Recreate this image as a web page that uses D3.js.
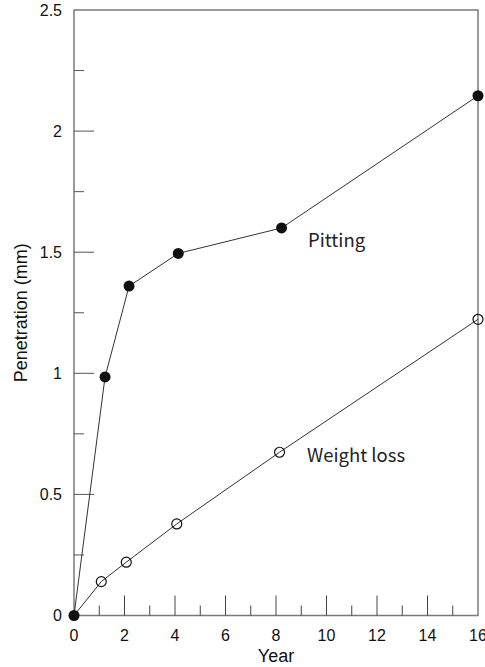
<!DOCTYPE html>
<meta charset="utf-8">
<head>
<style>
  * { margin: 0; padding: 0; }
  body { background: #fff; }
  svg { display: block; }
  .tick-label { font: 16px "Liberation Sans", Arial, sans-serif; fill: #111; }
  .title { font: 18px "Liberation Sans", Arial, sans-serif; fill: #111; }
  .series-label { font: 18.5px "Noto Sans CJK KR", "Noto Sans", sans-serif; fill: #222; }
</style>
</head>
<body>
<svg id="chart" width="485" height="667"></svg>
<script src="https://cdn.jsdelivr.net/npm/d3@7"></script>
<script>
  // data
  var pittingYears = [0, 1.23, 2.18, 4.13, 8.22, 16];
  var pittingValues = [0, 0.985, 1.36, 1.495, 1.6, 2.146];
  var weightYears = [0, 1.08, 2.07, 4.07, 8.14, 16];
  var weightValues = [0, 0.14, 0.22, 0.378, 0.674, 1.223];
  var xTicks = [0, 2, 4, 6, 8, 10, 12, 14, 16];
  var yTicks = [0, 0.5, 1, 1.5, 2, 2.5];

  var svg = d3.select("#chart");
  var m = { left: 74, right: 478, top: 10, bottom: 615.5 };

  var x = d3.scaleLinear().domain([0, 16]).range([m.left, m.right]);
  var y = d3.scaleLinear().domain([0, 2.5]).range([m.bottom, m.top]);

  var axisColor = "#7a7a7a";

  // frame
  svg.append("rect")
    .attr("x", m.left).attr("y", m.top)
    .attr("width", m.right - m.left).attr("height", m.bottom - m.top)
    .attr("fill", "none").attr("stroke", axisColor).attr("stroke-width", 1.5);

  // x ticks (inward), major every 2, minor every 1
  d3.range(1, 16).forEach(function(v) {
    var len = v % 2 === 0 ? 20 : 10;
    svg.append("line")
      .attr("x1", x(v)).attr("x2", x(v))
      .attr("y1", m.bottom).attr("y2", m.bottom - len)
      .attr("stroke", "#444").attr("stroke-width", 1);
  });
  svg.selectAll(".xl").data(xTicks).enter().append("text")
    .attr("class", "tick-label")
    .attr("x", function(d) { return x(d); })
    .attr("y", 641)
    .attr("text-anchor", "middle")
    .text(function(d) { return d; });

  // y ticks, major every 0.5, minor every 0.25
  d3.range(1, 10).forEach(function(i) {
    var v = i * 0.25;
    var len = i % 2 === 0 ? 20 : 10;
    svg.append("line")
      .attr("x1", m.left).attr("x2", m.left + len)
      .attr("y1", y(v)).attr("y2", y(v))
      .attr("stroke", "#555").attr("stroke-width", 1);
  });
  svg.selectAll(".yl").data(yTicks).enter().append("text")
    .attr("class", "tick-label")
    .attr("x", 62)
    .attr("y", function(d) { return y(d); })
    .attr("dy", "0.35em")
    .attr("text-anchor", "end")
    .text(function(d) { return d; });

  // axis titles
  svg.append("text").attr("class", "title")
    .attr("x", (m.left + m.right) / 2).attr("y", 662)
    .attr("text-anchor", "middle").text("Year");
  svg.append("text").attr("class", "title")
    .attr("transform", "translate(27," + ((m.top + m.bottom) / 2) + ") rotate(-90)")
    .attr("text-anchor", "middle").text("Penetration (mm)");

  var line = d3.line()
    .x(function(d) { return x(d[0]); })
    .y(function(d) { return y(d[1]); });

  var pitting = d3.zip(pittingYears, pittingValues);
  var weight = d3.zip(weightYears, weightValues);

  svg.append("path").datum(pitting).attr("d", line)
    .attr("fill", "none").attr("stroke", "#333").attr("stroke-width", 1);
  svg.append("path").datum(weight).attr("d", line)
    .attr("fill", "none").attr("stroke", "#333").attr("stroke-width", 1);

  svg.selectAll(".wp").data(weight.slice(1)).enter().append("circle")
    .attr("cx", function(d) { return x(d[0]); })
    .attr("cy", function(d) { return y(d[1]); })
    .attr("r", 5).attr("fill", "none")
    .attr("stroke", "#111").attr("stroke-width", 1.2);
  svg.selectAll(".pp").data(pitting).enter().append("circle")
    .attr("cx", function(d) { return x(d[0]); })
    .attr("cy", function(d) { return y(d[1]); })
    .attr("r", 5.5).attr("fill", "#111");

  svg.append("text").attr("class", "series-label")
    .attr("x", 308).attr("y", 247).text("Pitting");
  svg.append("text").attr("class", "series-label")
    .attr("x", 307).attr("y", 462).text("Weight loss");
</script>
</body>
